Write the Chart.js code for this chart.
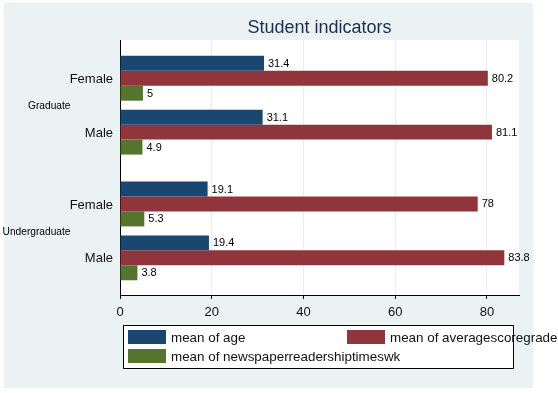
<!DOCTYPE html>
<html>
<head>
<meta charset="utf-8">
<script src="https://cdn.jsdelivr.net/npm/chart.js@4.4.1/dist/chart.umd.min.js"></script>
<style>
  html, body { margin: 0; padding: 0; background: #fff; }
  canvas { display: block; }
</style>
</head>
<body>
<canvas id="studentChart" width="558" height="393"></canvas>
<script>
// --- Data ---
const groups = ['Graduate', 'Undergraduate'];
const sexes = ['Female', 'Male'];
const meanAge = [31.4, 31.1, 19.1, 19.4];
const meanGrade = [80.2, 81.1, 78, 83.8];
const meanNews = [5, 4.9, 5.3, 3.8];
const xTicks = [0, 20, 40, 60, 80];
const seriesNames = ['mean of age', 'mean of averagescoregrade', 'mean of newspaperreadershiptimeswk'];

// --- Layout helpers ---
const FONT = '"Liberation Sans", Arial, sans-serif';
const groupGap = 0.333;   // extra space between Graduate and Undergraduate
const rowLabels = [];
const rowPos = [];
groups.forEach((g, gi) => {
    sexes.forEach((s, si) => {
        const i = gi * sexes.length + si;
        rowLabels.push(s);
        rowPos.push(i + gi * groupGap);
    });
});

const toPoints = vals => vals.map((v, i) => ({ x: v, y: rowPos[i] }));

// --- Custom drawing: background, title, group labels, value labels, legend ---
const stataPlugin = {
    id: 'stata',
    beforeDraw(chart) {
        const { ctx, chartArea } = chart;
        ctx.save();
        ctx.fillStyle = '#eaf2f3';
        ctx.fillRect(4, 3, 529, 385);
        ctx.fillStyle = '#ffffff';
        ctx.fillRect(chartArea.left, chartArea.top, chartArea.right - chartArea.left, chartArea.bottom - chartArea.top);
        ctx.restore();
    },
    afterDatasetsDraw(chart) {
        const { ctx } = chart;
        ctx.save();
        ctx.font = '11px ' + FONT;
        ctx.fillStyle = '#000';
        ctx.textAlign = 'left';
        ctx.textBaseline = 'middle';
        chart.data.datasets.forEach((ds, di) => {
            const meta = chart.getDatasetMeta(di);
            meta.data.forEach((bar, i) => {
                ctx.fillText(String(ds.data[i].x), bar.x + 4, bar.y + 0.5);
            });
        });
        ctx.restore();
    },
    afterDraw(chart) {
        const { ctx, chartArea, scales } = chart;
        ctx.save();
        // title
        ctx.font = '18px ' + FONT;
        ctx.fillStyle = '#1e2b4f';
        ctx.textAlign = 'center';
        ctx.textBaseline = 'alphabetic';
        ctx.fillText('Student indicators', (chartArea.left + chartArea.right) / 2, 33);

        // group labels
        ctx.font = '10.2px ' + FONT;
        ctx.fillStyle = '#000';
        ctx.textAlign = 'right';
        ctx.textBaseline = 'middle';
        groups.forEach((g, gi) => {
            const a = scales.y.getPixelForValue(rowPos[gi * 2]);
            const b = scales.y.getPixelForValue(rowPos[gi * 2 + 1]);
            ctx.fillText(g, 70.5, (a + b) / 2 + 1);
        });

        // legend
        ctx.fillStyle = '#fff';
        ctx.fillRect(123, 325, 391, 44);
        ctx.strokeStyle = '#000';
        ctx.lineWidth = 1;
        ctx.strokeRect(123.5, 325.5, 390, 43);
        const slots = [[128, 330], [347, 330], [128, 349]];
        ctx.font = '13.4px ' + FONT;
        ctx.textAlign = 'left';
        chart.data.datasets.forEach((ds, di) => {
            const [lx, ly] = slots[di];
            ctx.fillStyle = ds.backgroundColor;
            ctx.fillRect(lx, ly, 38, 14);
            ctx.fillStyle = '#111';
            ctx.fillText(ds.label, lx + 43, ly + 8.5);
        });
        ctx.restore();
    }
};

const ctx = document.getElementById('studentChart');
new Chart(ctx, {
    type: 'bar',
    data: {
        datasets: [
            { label: seriesNames[0], data: toPoints(meanAge), backgroundColor: '#1a476f' },
            { label: seriesNames[1], data: toPoints(meanGrade), backgroundColor: '#90353b' },
            { label: seriesNames[2], data: toPoints(meanNews), backgroundColor: '#55752f' }
        ]
    },
    options: {
        indexAxis: 'y',
        responsive: false,
        animation: false,
        events: [],
        categoryPercentage: 0.833,
        barPercentage: 1.0,
        layout: { padding: { top: 40, right: 39, left: 0, bottom: 0 } },
        plugins: {
            legend: { display: false },
            title: { display: false },
            tooltip: { enabled: false }
        },
        scales: {
            x: {
                type: 'linear',
                min: 0,
                max: 87,
                afterBuildTicks: scale => { scale.ticks = xTicks.map(v => ({ value: v })); },
                afterFit: scale => { scale.height = 98; },
                grid: {
                    color: c => c.tick && c.tick.value === 0 ? 'rgba(0,0,0,0)' : '#e8eff1',
                    lineWidth: 1,
                    tickColor: '#000',
                    tickLength: 4
                },
                border: { display: true, color: '#000', width: 1 },
                ticks: {
                    padding: 6,
                    color: '#111',
                    font: { family: FONT, size: 13 }
                }
            },
            y: {
                type: 'linear',
                reverse: true,
                offset: false,
                min: -0.71,
                max: rowPos[rowPos.length - 1] + 0.69,
                afterBuildTicks: scale => { scale.ticks = rowPos.map(v => ({ value: v })); },
                afterFit: scale => { scale.width = 120; },
                grid: { display: false, drawTicks: false, offset: false },
                border: { display: true, color: '#000', width: 1 },
                ticks: {
                    padding: 7,
                    labelOffset: 1,
                    color: '#111',
                    font: { family: FONT, size: 13 },
                    callback: (value, index) => rowLabels[index]
                }
            }
        }
    },
    plugins: [stataPlugin]
});
</script>
</body>
</html>
